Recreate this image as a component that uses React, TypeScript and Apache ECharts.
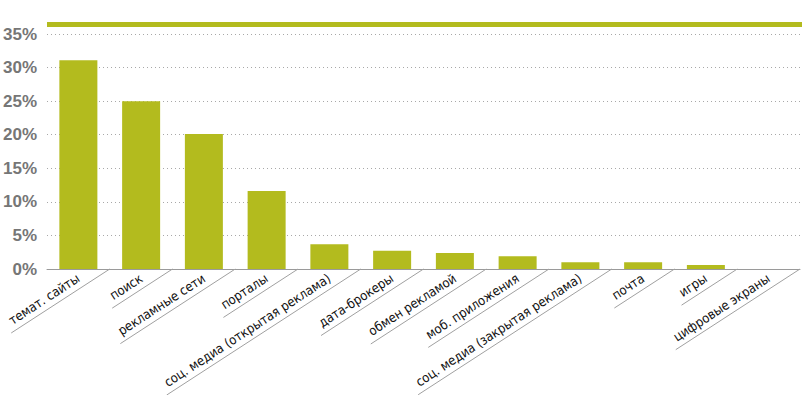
import React, { useEffect, useRef } from "react";
import * as echarts from "echarts";

const categories = [
  "темат. сайты",
  "поиск",
  "рекламные сети",
  "порталы",
  "соц. медиа (открытая реклама)",
  "дата-брокеры",
  "обмен рекламой",
  "моб. приложения",
  "соц. медиа (закрытая реклама)",
  "почта",
  "игры",
  "цифровые экраны",
];
const shares = [31.1, 25, 20.1, 11.6, 3.7, 2.7, 2.4, 1.9, 1.0, 1.0, 0.6, 0];
const yTicks = { min: 0, max: 35, interval: 5 };

const BAR_COLOR = "#b3bb1e";
const LABEL_SIZE = 13;
const LABEL_FAMILY = "DejaVu Sans Condensed";
const LABEL_FONT = `${LABEL_SIZE}px '${LABEL_FAMILY}'`;
const ROT = 33;

export default function App() {
  const ref = useRef<HTMLDivElement>(null);
  useEffect(() => {
    document.body.style.margin = "0";
    const canvas = document.createElement("canvas");
    const ctx = canvas.getContext("2d")!;
    ctx.font = LABEL_FONT;
    const widths = categories.map((c) => ctx.measureText(c).width);
    const rad = (ROT * Math.PI) / 180;
    const chart = echarts.init(ref.current!, null, { renderer: "svg" });
    chart.setOption({
      animation: false,
      grid: {
        left: 47,
        right: 8,
        top: 34,
        bottom: 126,
        containLabel: false,
        outerBoundsMode: "none",
      },
      graphic: [
        {
          type: "rect",
          left: 47,
          top: 22,
          shape: { width: 755, height: 5 },
          style: { fill: BAR_COLOR },
        },
      ],
      xAxis: {
        type: "category",
        data: categories,
        axisLine: { lineStyle: { color: "#9a9a9a", width: 1 } },
        axisTick: { inside: true, length: 7, lineStyle: { color: "#9a9a9a" } },
        axisLabel: {
          interval: 0,
          rotate: ROT,
          margin: 8,
          color: "#111",
          fontSize: LABEL_SIZE,
          fontFamily: LABEL_FAMILY,
        },
      },
      yAxis: {
        type: "value",
        min: yTicks.min,
        max: yTicks.max,
        interval: yTicks.interval,
        axisLine: { show: false },
        axisTick: { show: false },
        splitLine: {
          lineStyle: { type: [1, 3], color: "#a8a8a8", width: 1 },
        },
        axisLabel: {
          formatter: "{value}%",
          margin: 10,
          color: "#767676",
          fontSize: 17,
          fontWeight: "bold",
          fontFamily: "Liberation Sans",
        },
      },
      series: [
        {
          type: "bar",
          data: shares,
          barWidth: 38,
          itemStyle: { color: BAR_COLOR },
        },
        {
          type: "custom",
          clip: false,
          silent: true,
          data: categories.map((_, i) => [i, 0]),
          encode: { x: 0, y: 1 },
          renderItem: (params: any, api: any) => {
            const i = api.value(0);
            const c = api.coord([i, 0]);
            const bw = api.size([1, 0])[0];
            const sx = c[0] + bw / 2;
            const sy = c[1];
            const len = widths[i] + 36;
            return {
              type: "line",
              shape: {
                x1: sx,
                y1: sy,
                x2: sx - len * Math.cos(rad),
                y2: sy + len * Math.sin(rad),
              },
              style: { stroke: "#a0a0a0", lineWidth: 1 },
            };
          },
        },
      ],
    });
    return () => chart.dispose();
  }, []);
  return (
    <div
      ref={ref}
      style={{ position: "fixed", left: 0, top: 0, width: 808, height: 395, background: "#fff" }}
    />
  );
}
